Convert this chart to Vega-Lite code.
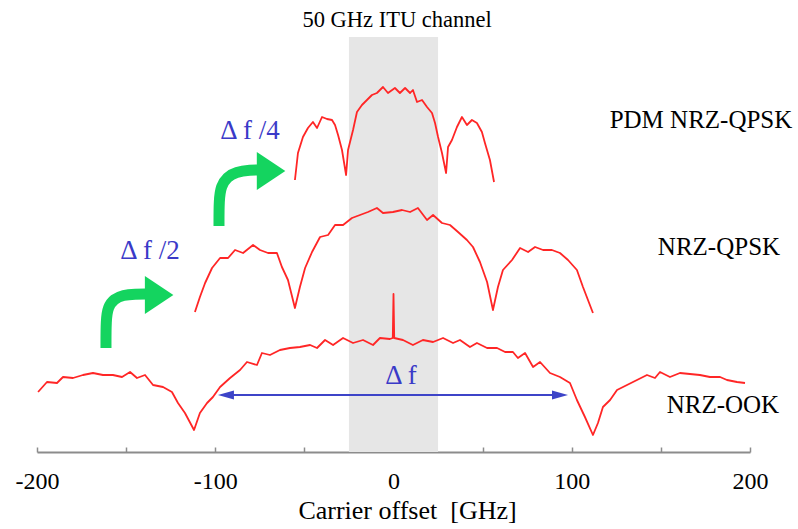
{
  "$schema": "https://vega.github.io/schema/vega-lite/v6.json",
  "width": 713,
  "height": 452,
  "autosize": {"type": "none"},
  "padding": {"left": 37, "top": 0, "right": 48, "bottom": 77},
  "background": "white",
  "config": {"view": {"stroke": null}, "font": "Liberation Serif, Times New Roman, serif"},
  "layer": [
    {
      "data": {"values": [{"x1": -25, "x2": 25, "y1": 0, "y2": 415}]},
      "mark": {"type": "rect", "color": "#e6e6e6"},
      "encoding": {
        "x": {"field": "x1", "type": "quantitative", "scale": {"domain": [-200, 200], "nice": false},
          "axis": {"values": [-200, -150, -100, -50, 0, 50, 100, 150, 200],
            "labelExpr": "datum.value % 100 === 0 ? toString(datum.value) : ''",
            "labelFlush": false, "labelOverlap": false,
            "title": "Carrier offset\u00a0 [GHz]", "grid": false,
            "domainColor": "#8c8c8c", "domainWidth": 2, "tickColor": "#8c8c8c", "tickSize": -5, "tickWidth": 1.5,
            "labelFont": "Liberation Serif, Times New Roman, serif", "labelFontSize": 24, "labelColor": "#000", "labelPadding": 22,
            "titleFont": "Liberation Serif, Times New Roman, serif", "titleFontSize": 26, "titleFontWeight": "normal", "titleColor": "#000", "titlePadding": 4, "titleX": 370, "titleAlign": "center"}},
        "x2": {"field": "x2"},
        "y": {"field": "y1", "type": "quantitative", "scale": {"domain": [0, 452], "nice": false, "zero": false}, "axis": null},
        "y2": {"field": "y2"}
      }
    },
    {
      "data": {"values": [
        {"s":"PDM","i":1,"x":-55.3,"y":272},{"s":"PDM","i":2,"x":-53.6,"y":299},{"s":"PDM","i":3,"x":-50.8,"y":315},{"s":"PDM","i":4,"x":-48.0,"y":324},{"s":"PDM","i":5,"x":-45.2,"y":330},{"s":"PDM","i":6,"x":-42.9,"y":324},{"s":"PDM","i":7,"x":-40.1,"y":335},{"s":"PDM","i":8,"x":-37.3,"y":333},{"s":"PDM","i":9,"x":-34.5,"y":332},{"s":"PDM","i":10,"x":-32.8,"y":327},{"s":"PDM","i":11,"x":-31.1,"y":317},{"s":"PDM","i":12,"x":-28.9,"y":302},{"s":"PDM","i":13,"x":-26.6,"y":277},{"s":"PDM","i":14,"x":-25.5,"y":302},{"s":"PDM","i":15,"x":-22.7,"y":322},{"s":"PDM","i":16,"x":-20.5,"y":340},{"s":"PDM","i":17,"x":-17.7,"y":347},{"s":"PDM","i":18,"x":-14.9,"y":352},{"s":"PDM","i":19,"x":-12.1,"y":357},{"s":"PDM","i":20,"x":-9.3,"y":359},{"s":"PDM","i":21,"x":-5.9,"y":365},{"s":"PDM","i":22,"x":-3.1,"y":359},{"s":"PDM","i":23,"x":0.8,"y":364},{"s":"PDM","i":24,"x":3.6,"y":359},{"s":"PDM","i":25,"x":6.5,"y":364},{"s":"PDM","i":26,"x":9.3,"y":359},{"s":"PDM","i":27,"x":10.9,"y":362},{"s":"PDM","i":28,"x":13.2,"y":350},{"s":"PDM","i":29,"x":16.0,"y":352},{"s":"PDM","i":30,"x":18.8,"y":345},{"s":"PDM","i":31,"x":21.6,"y":339},{"s":"PDM","i":32,"x":23.3,"y":329},{"s":"PDM","i":33,"x":25.0,"y":315},{"s":"PDM","i":34,"x":27.2,"y":299},{"s":"PDM","i":35,"x":29.5,"y":279},{"s":"PDM","i":36,"x":30.6,"y":305},{"s":"PDM","i":37,"x":32.8,"y":312},{"s":"PDM","i":38,"x":35.6,"y":325},{"s":"PDM","i":39,"x":38.4,"y":335},{"s":"PDM","i":40,"x":41.2,"y":327},{"s":"PDM","i":41,"x":44.0,"y":332},{"s":"PDM","i":42,"x":46.8,"y":329},{"s":"PDM","i":43,"x":49.6,"y":320},{"s":"PDM","i":44,"x":51.3,"y":309},{"s":"PDM","i":45,"x":54.1,"y":292},{"s":"PDM","i":46,"x":56.4,"y":270},
        {"s":"QPSK","i":1,"x":-111.4,"y":140},{"s":"QPSK","i":2,"x":-108.6,"y":155},{"s":"QPSK","i":3,"x":-105.7,"y":169},{"s":"QPSK","i":4,"x":-101.8,"y":184},{"s":"QPSK","i":5,"x":-97.3,"y":194},{"s":"QPSK","i":6,"x":-92.8,"y":194},{"s":"QPSK","i":7,"x":-88.9,"y":202},{"s":"QPSK","i":8,"x":-84.4,"y":199},{"s":"QPSK","i":9,"x":-78.8,"y":207},{"s":"QPSK","i":10,"x":-74.9,"y":202},{"s":"QPSK","i":11,"x":-70.4,"y":199},{"s":"QPSK","i":12,"x":-65.4,"y":199},{"s":"QPSK","i":13,"x":-62.6,"y":185},{"s":"QPSK","i":14,"x":-59.2,"y":172},{"s":"QPSK","i":15,"x":-55.3,"y":144},{"s":"QPSK","i":16,"x":-52.5,"y":165},{"s":"QPSK","i":17,"x":-49.6,"y":184},{"s":"QPSK","i":18,"x":-45.7,"y":200},{"s":"QPSK","i":19,"x":-41.2,"y":215},{"s":"QPSK","i":20,"x":-36.7,"y":217},{"s":"QPSK","i":21,"x":-32.8,"y":227},{"s":"QPSK","i":22,"x":-28.3,"y":227},{"s":"QPSK","i":23,"x":-23.3,"y":234},{"s":"QPSK","i":24,"x":-18.8,"y":237},{"s":"QPSK","i":25,"x":-14.3,"y":240},{"s":"QPSK","i":26,"x":-9.3,"y":244},{"s":"QPSK","i":27,"x":-5.9,"y":239},{"s":"QPSK","i":28,"x":-0.3,"y":240},{"s":"QPSK","i":29,"x":4.8,"y":242},{"s":"QPSK","i":30,"x":9.3,"y":240},{"s":"QPSK","i":31,"x":13.7,"y":244},{"s":"QPSK","i":32,"x":18.8,"y":232},{"s":"QPSK","i":33,"x":22.2,"y":237},{"s":"QPSK","i":34,"x":27.2,"y":229},{"s":"QPSK","i":35,"x":31.7,"y":227},{"s":"QPSK","i":36,"x":36.2,"y":220},{"s":"QPSK","i":37,"x":41.2,"y":212},{"s":"QPSK","i":38,"x":44.6,"y":205},{"s":"QPSK","i":39,"x":48.5,"y":190},{"s":"QPSK","i":40,"x":52.5,"y":170},{"s":"QPSK","i":41,"x":55.8,"y":142},{"s":"QPSK","i":42,"x":58.6,"y":165},{"s":"QPSK","i":43,"x":61.4,"y":182},{"s":"QPSK","i":44,"x":66.5,"y":192},{"s":"QPSK","i":45,"x":71.0,"y":204},{"s":"QPSK","i":46,"x":75.5,"y":200},{"s":"QPSK","i":47,"x":79.4,"y":205},{"s":"QPSK","i":48,"x":83.9,"y":202},{"s":"QPSK","i":49,"x":88.9,"y":202},{"s":"QPSK","i":50,"x":93.4,"y":199},{"s":"QPSK","i":51,"x":97.9,"y":192},{"s":"QPSK","i":52,"x":102.9,"y":182},{"s":"QPSK","i":53,"x":106.3,"y":165},{"s":"QPSK","i":54,"x":111.9,"y":139},
        {"s":"OOK","i":1,"x":-199.4,"y":60},{"s":"OOK","i":2,"x":-194.4,"y":70},{"s":"OOK","i":3,"x":-188.8,"y":69},{"s":"OOK","i":4,"x":-185.4,"y":75},{"s":"OOK","i":5,"x":-179.8,"y":74},{"s":"OOK","i":6,"x":-174.2,"y":77},{"s":"OOK","i":7,"x":-168.6,"y":79},{"s":"OOK","i":8,"x":-163.0,"y":77},{"s":"OOK","i":9,"x":-157.4,"y":77},{"s":"OOK","i":10,"x":-152.3,"y":75},{"s":"OOK","i":11,"x":-147.8,"y":80},{"s":"OOK","i":12,"x":-143.9,"y":74},{"s":"OOK","i":13,"x":-139.4,"y":77},{"s":"OOK","i":14,"x":-134.9,"y":67},{"s":"OOK","i":15,"x":-129.3,"y":65},{"s":"OOK","i":16,"x":-124.3,"y":60},{"s":"OOK","i":17,"x":-120.9,"y":49},{"s":"OOK","i":18,"x":-117.0,"y":39},{"s":"OOK","i":19,"x":-111.9,"y":22},{"s":"OOK","i":20,"x":-108.6,"y":39},{"s":"OOK","i":21,"x":-104.6,"y":49},{"s":"OOK","i":22,"x":-101.3,"y":55},{"s":"OOK","i":23,"x":-97.3,"y":65},{"s":"OOK","i":24,"x":-91.7,"y":74},{"s":"OOK","i":25,"x":-86.1,"y":82},{"s":"OOK","i":26,"x":-82.2,"y":90},{"s":"OOK","i":27,"x":-76.6,"y":87},{"s":"OOK","i":28,"x":-73.8,"y":99},{"s":"OOK","i":29,"x":-69.3,"y":97},{"s":"OOK","i":30,"x":-63.7,"y":102},{"s":"OOK","i":31,"x":-58.1,"y":104},{"s":"OOK","i":32,"x":-52.5,"y":105},{"s":"OOK","i":33,"x":-46.8,"y":107},{"s":"OOK","i":34,"x":-42.9,"y":104},{"s":"OOK","i":35,"x":-38.4,"y":112},{"s":"OOK","i":36,"x":-33.9,"y":107},{"s":"OOK","i":37,"x":-28.3,"y":114},{"s":"OOK","i":38,"x":-22.7,"y":109},{"s":"OOK","i":39,"x":-17.1,"y":112},{"s":"OOK","i":40,"x":-11.5,"y":107},{"s":"OOK","i":41,"x":-7.6,"y":114},{"s":"OOK","i":42,"x":-2.0,"y":113},{"s":"OOK","i":43,"x":-0.4,"y":114},{"s":"OOK","i":44,"x":0,"y":158},{"s":"OOK","i":45,"x":0.4,"y":114},{"s":"OOK","i":46,"x":5.3,"y":112},{"s":"OOK","i":47,"x":10.9,"y":107},{"s":"OOK","i":48,"x":16.5,"y":112},{"s":"OOK","i":49,"x":22.2,"y":110},{"s":"OOK","i":50,"x":27.8,"y":114},{"s":"OOK","i":51,"x":33.4,"y":109},{"s":"OOK","i":52,"x":37.3,"y":112},{"s":"OOK","i":53,"x":42.9,"y":105},{"s":"OOK","i":54,"x":46.8,"y":109},{"s":"OOK","i":55,"x":52.5,"y":104},{"s":"OOK","i":56,"x":58.1,"y":104},{"s":"OOK","i":57,"x":62.6,"y":100},{"s":"OOK","i":58,"x":67.0,"y":100},{"s":"OOK","i":59,"x":69.8,"y":94},{"s":"OOK","i":60,"x":73.8,"y":99},{"s":"OOK","i":61,"x":78.3,"y":85},{"s":"OOK","i":62,"x":82.2,"y":90},{"s":"OOK","i":63,"x":87.8,"y":79},{"s":"OOK","i":64,"x":93.4,"y":75},{"s":"OOK","i":65,"x":99.0,"y":69},{"s":"OOK","i":66,"x":102.9,"y":52},{"s":"OOK","i":67,"x":107.4,"y":35},{"s":"OOK","i":68,"x":111.9,"y":17},{"s":"OOK","i":69,"x":114.7,"y":29},{"s":"OOK","i":70,"x":117.5,"y":45},{"s":"OOK","i":71,"x":121.5,"y":52},{"s":"OOK","i":72,"x":125.4,"y":62},{"s":"OOK","i":73,"x":131.0,"y":67},{"s":"OOK","i":74,"x":136.6,"y":72},{"s":"OOK","i":75,"x":142.2,"y":77},{"s":"OOK","i":76,"x":146.7,"y":74},{"s":"OOK","i":77,"x":149.5,"y":80},{"s":"OOK","i":78,"x":155.1,"y":75},{"s":"OOK","i":79,"x":160.7,"y":79},{"s":"OOK","i":80,"x":166.3,"y":78},{"s":"OOK","i":81,"x":171.9,"y":77},{"s":"OOK","i":82,"x":177.5,"y":75},{"s":"OOK","i":83,"x":183.2,"y":75},{"s":"OOK","i":84,"x":187.1,"y":72},{"s":"OOK","i":85,"x":192.7,"y":70},{"s":"OOK","i":86,"x":197.2,"y":69}
      ]},
      "mark": {"type": "line", "color": "#ff2626", "strokeWidth": 1.8, "strokeJoin": "round"},
      "encoding": {
        "x": {"field": "x", "type": "quantitative"},
        "y": {"field": "y", "type": "quantitative"},
        "detail": {"field": "s"},
        "order": {"field": "i", "type": "quantitative"}
      }
    },
    {
      "data": {"values": [
        {"a":"u","i":1,"x":-97.9,"y":226},{"a":"u","i":2,"x":-97.9,"y":252},{"a":"u","i":3,"x":-96.8,"y":266},{"a":"u","i":4,"x":-93.4,"y":275},{"a":"u","i":5,"x":-88.4,"y":280},{"a":"u","i":6,"x":-80.5,"y":282},{"a":"u","i":7,"x":-73.8,"y":282},
        {"a":"l","i":1,"x":-161.3,"y":104},{"a":"l","i":2,"x":-161.3,"y":132},{"a":"l","i":3,"x":-160.2,"y":145},{"a":"l","i":4,"x":-156.8,"y":153},{"a":"l","i":5,"x":-151.7,"y":157},{"a":"l","i":6,"x":-145.0,"y":158},{"a":"l","i":7,"x":-138.0,"y":158}
      ]},
      "mark": {"type": "line", "color": "#14d45f", "strokeWidth": 11, "strokeCap": "butt", "strokeJoin": "round", "interpolate": "basis"},
      "encoding": {
        "x": {"field": "x", "type": "quantitative"},
        "y": {"field": "y", "type": "quantitative"},
        "detail": {"field": "a"},
        "order": {"field": "i", "type": "quantitative"}
      }
    },
    {
      "data": {"values": [{"x": -68.7, "y": 281}, {"x": -131.5, "y": 157}]},
      "mark": {"type": "point", "shape": "M -0.75 -1 L 0.75 0 L -0.75 1 Z", "size": 1444, "filled": true, "color": "#14d45f", "opacity": 1},
      "encoding": {
        "x": {"field": "x", "type": "quantitative"},
        "y": {"field": "y", "type": "quantitative"}
      }
    },
    {
      "data": {"values": [{"x": -94.0, "x2": 93.4, "y": 57}]},
      "mark": {"type": "rule", "color": "#3d44c8", "strokeWidth": 2},
      "encoding": {
        "x": {"field": "x", "type": "quantitative"},
        "x2": {"field": "x2"},
        "y": {"field": "y", "type": "quantitative"}
      }
    },
    {
      "data": {"values": [{"x": -94.0, "y": 57, "dir": "L"}, {"x": 93.4, "y": 57, "dir": "R"}]},
      "mark": {"type": "point", "filled": true, "size": 256, "color": "#3d44c8", "opacity": 1},
      "encoding": {
        "x": {"field": "x", "type": "quantitative"},
        "y": {"field": "y", "type": "quantitative"},
        "shape": {"field": "dir", "type": "nominal", "scale": {"domain": ["L", "R"], "range": ["M 1 -0.55 L -1 0 L 1 0.55 Z", "M -1 -0.55 L 1 0 L -1 0.55 Z"]}, "legend": null}
      }
    },
    {
      "data": {"values": [
        {"t": "Δ f /4", "x": -80.5, "y": 313},
        {"t": "Δ f /2", "x": -136.6, "y": 193},
        {"t": "Δ f", "x": 4.2, "y": 68}
      ]},
      "mark": {"type": "text", "font": "Liberation Serif, Times New Roman, serif", "fontSize": 27, "color": "#3a3ac8", "align": "center", "baseline": "alphabetic"},
      "encoding": {
        "x": {"field": "x", "type": "quantitative"},
        "y": {"field": "y", "type": "quantitative"},
        "text": {"field": "t"}
      }
    },
    {
      "data": {"values": [
        {"t": "PDM NRZ-QPSK", "x": 172.5, "y": 324, "fs": 25},
        {"t": "NRZ-QPSK", "x": 182.6, "y": 197, "fs": 25},
        {"t": "NRZ-OOK", "x": 184.8, "y": 39, "fs": 25},
        {"t": "50 GHz ITU channel", "x": 2, "y": 425, "fs": 22.5}
      ]},
      "mark": {"type": "text", "font": "Liberation Serif, Times New Roman, serif", "color": "#000", "align": "center", "baseline": "alphabetic"},
      "encoding": {
        "x": {"field": "x", "type": "quantitative"},
        "y": {"field": "y", "type": "quantitative"},
        "text": {"field": "t"},
        "size": {"field": "fs", "type": "quantitative", "scale": null}
      }
    }
  ]
}
